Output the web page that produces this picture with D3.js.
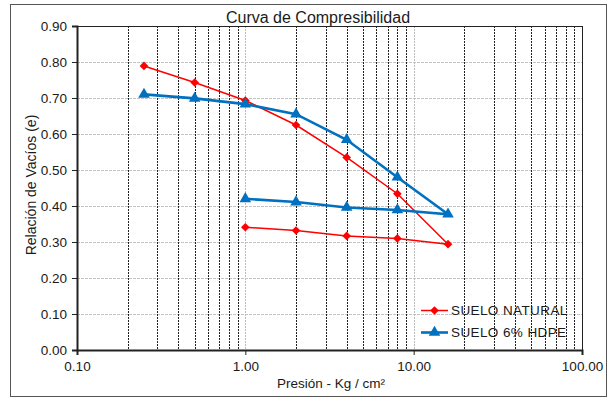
<!DOCTYPE html>
<html>
<head>
<meta charset="utf-8">
<script src="https://cdn.jsdelivr.net/npm/d3@7"></script>
<style>
  body { margin: 0; background: #fff; }
  text { font-family: "Liberation Sans", Arial, sans-serif; fill: #1a1a1a; }
</style>
</head>
<body>
<div id="chart"></div>
<script>
// data
const presion = [0.25, 0.5, 1, 2, 4, 8, 16, 8, 4, 2, 1];
const eNatural = [0.789, 0.743, 0.693, 0.625, 0.535, 0.434, 0.294, 0.310, 0.317, 0.332, 0.341];
const eHdpe = [0.710, 0.699, 0.683, 0.655, 0.584, 0.480, 0.377, 0.389, 0.396, 0.411, 0.420];
const seriesNames = ["SUELO NATURAL", "SUELO 6% HDPE"];
const yTicks = [0, 0.1, 0.2, 0.3, 0.4, 0.5, 0.6, 0.7, 0.8, 0.9];
const xTicks = [0.1, 1, 10, 100];

const canvWidth = 611, canvHeight = 402;
const margin = {top: 26, right: 29, bottom: 52, left: 77};
const width = 582 - margin.left, height = 350 - margin.top;

const svg = d3.select("#chart").append("svg")
    .attr("width", canvWidth)
    .attr("height", canvHeight);

// outer chart border
svg.append("rect")
    .attr("x", 10.5).attr("y", 4.5)
    .attr("width", 596).attr("height", 392)
    .attr("fill", "none").attr("stroke", "#555").attr("stroke-width", 1);

const g = svg.append("g").attr("transform", `translate(${margin.left},${margin.top})`);

const x = d3.scaleLog().domain([0.1, 100]).range([0, width]);
const y = d3.scaleLinear().domain([0, 0.9]).range([height, 0]);

// horizontal grid
g.selectAll(".hgrid")
  .data(yTicks.filter(d => d > 0 && d < 0.9))
  .join("line")
    .attr("x1", 0).attr("x2", width)
    .attr("y1", d => Math.round(y(d)) + 0.5).attr("y2", d => Math.round(y(d)) + 0.5)
    .attr("stroke", "#c4c4c4").attr("stroke-dasharray", "3,1");

// vertical minor grid (2..9 of each decade) and major grid
const minor = [];
[0.1, 1, 10].forEach(dec => { for (let k = 2; k <= 9; k++) minor.push(dec * k); });
g.selectAll(".vminor")
  .data(minor)
  .join("line")
    .attr("x1", d => Math.round(x(d)) + 0.5).attr("x2", d => Math.round(x(d)) + 0.5)
    .attr("y1", 0).attr("y2", height)
    .attr("stroke", "#222").attr("stroke-dasharray", "2,1");
g.selectAll(".vmajor")
  .data([1, 10])
  .join("line")
    .attr("x1", d => Math.round(x(d)) + 0.5).attr("x2", d => Math.round(x(d)) + 0.5)
    .attr("y1", 0).attr("y2", height)
    .attr("stroke", "#bbb").attr("stroke-dasharray", "2,1");

// plot area frame
g.append("rect")
    .attr("x", 0.5).attr("y", 0.5).attr("width", width).attr("height", height)
    .attr("fill", "none").attr("stroke", "#222").attr("stroke-width", 1);

// axes
const yAxis = g.append("g")
    .call(d3.axisLeft(y).tickValues(yTicks).tickFormat(d3.format(".2f")).tickSize(5).tickPadding(5));
const xAxis = g.append("g")
    .attr("transform", `translate(0,${height})`)
    .call(d3.axisBottom(x).tickValues(xTicks).tickFormat(d3.format(".2f")).tickSize(5).tickPadding(6));
[yAxis, xAxis].forEach(a => {
  a.select(".domain").attr("stroke", "#222").attr("stroke-width", 2);
  a.selectAll(".tick line").attr("stroke", "#222");
  a.selectAll("text").attr("font-size", 13.5).attr("fill", "#1a1a1a")
    .attr("font-family", "'Liberation Sans', Arial, sans-serif");
});

// series
const colors = ["#ff0000", "#0070c0"];
const series = [eNatural, eHdpe];
const line = d3.line().x(d => x(d[0])).y(d => y(d[1]));
const diamond = d3.symbol().type(d3.symbolDiamond2 || d3.symbolDiamond).size(48);
const triangle = d3.symbol().type(d3.symbolTriangle).size(58);

series.forEach((vals, i) => {
  const pts = presion.map((p, j) => [p, vals[j]]);
  g.append("path")
    .datum(pts)
    .attr("d", line)
    .attr("fill", "none")
    .attr("stroke", colors[i])
    .attr("stroke-width", i === 0 ? 1.5 : 2.6);
  g.selectAll(".m" + i)
    .data(pts)
    .join("path")
      .attr("transform", d => `translate(${x(d[0])},${y(d[1])})`)
      .attr("d", i === 0 ? diamond : triangle)
      .attr("fill", colors[i]);
});

// legend
const legend = g.append("g").attr("transform", `translate(${421 - margin.left},${310.5 - margin.top})`);
seriesNames.forEach((name, i) => {
  const row = legend.append("g").attr("transform", `translate(0,${i * 22})`);
  row.append("line").attr("x1", 0).attr("x2", 27).attr("y1", 0).attr("y2", 0)
    .attr("stroke", colors[i]).attr("stroke-width", i === 0 ? 1.5 : 2.6);
  row.append("path").attr("transform", "translate(13.5,0)")
    .attr("d", i === 0 ? diamond : triangle).attr("fill", colors[i]);
  row.append("text").attr("x", 30).attr("y", 4.5)
    .attr("font-size", 13.5).attr("letter-spacing", 0.4).text(name);
});

// titles
svg.append("text")
    .attr("x", 318).attr("y", 22.5)
    .attr("text-anchor", "middle").attr("font-size", 16)
    .text("Curva de Compresibilidad");
svg.append("text")
    .attr("x", 331).attr("y", 388)
    .attr("text-anchor", "middle").attr("font-size", 13.5)
    .attr("font-family", "'Open Sans', sans-serif")
    .text("Presión - Kg / cm²");
svg.append("text")
    .attr("transform", "translate(36,185) rotate(-90)")
    .attr("text-anchor", "middle").attr("font-size", 14)
    .text("Relación de Vacíos (e)");
</script>
</body>
</html>
